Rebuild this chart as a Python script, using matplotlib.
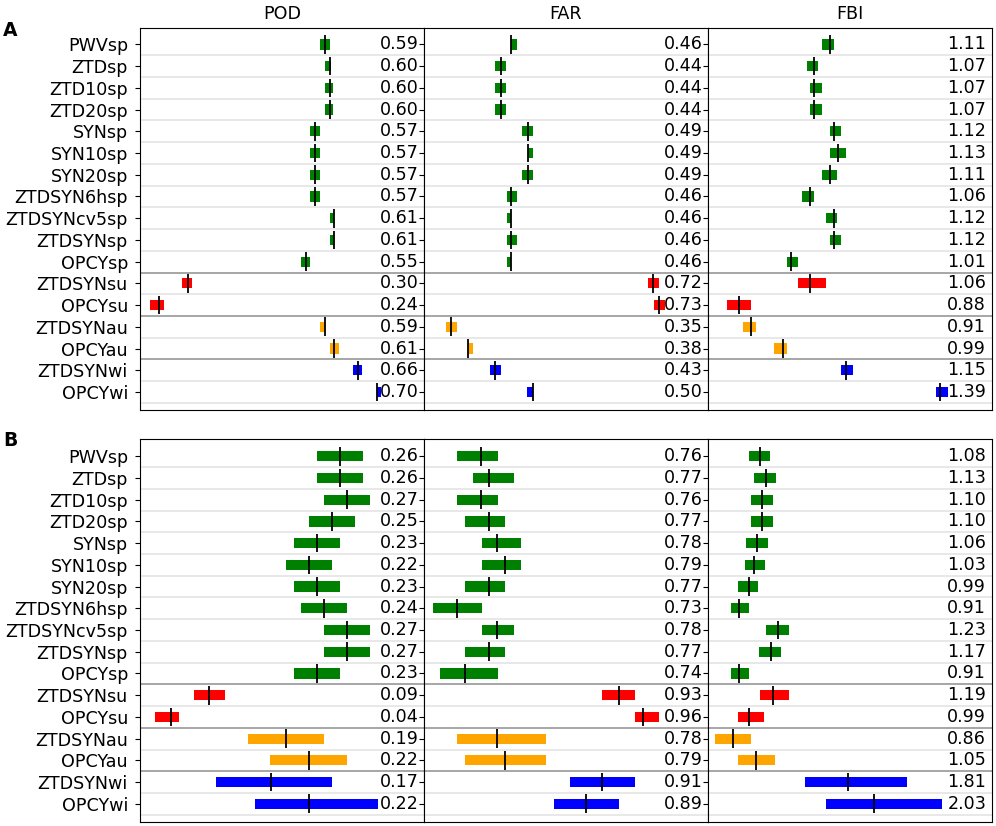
import numpy as np
import matplotlib
matplotlib.use("Agg")
import matplotlib.pyplot as plt
import matplotlib.transforms as mtransforms

# --- data ---
rows = ["PWVsp", "ZTDsp", "ZTD10sp", "ZTD20sp", "SYNsp", "SYN10sp", "SYN20sp",
        "ZTDSYN6hsp", "ZTDSYNcv5sp", "ZTDSYNsp", "OPCYsp",
        "ZTDSYNsu", "OPCYsu", "ZTDSYNau", "OPCYau", "ZTDSYNwi", "OPCYwi"]
row_colors = ["green"] * 11 + ["red"] * 2 + ["orange"] * 2 + ["blue"] * 2
metrics = ["POD", "FAR", "FBI"]

# panel A
a_pod = [0.59, 0.60, 0.60, 0.60, 0.57, 0.57, 0.57, 0.57, 0.61, 0.61, 0.55,
         0.30, 0.24, 0.59, 0.61, 0.66, 0.70]
a_pod_lo = [0.580, 0.590, 0.590, 0.590, 0.559, 0.559, 0.559, 0.559, 0.601, 0.601, 0.540,
            0.288, 0.220, 0.580, 0.600, 0.650, 0.700]
a_pod_hi = [0.600, 0.602, 0.608, 0.608, 0.579, 0.579, 0.579, 0.579, 0.609, 0.609, 0.558,
            0.310, 0.249, 0.590, 0.619, 0.669, 0.708]

a_far = [0.46, 0.44, 0.44, 0.44, 0.49, 0.49, 0.49, 0.46, 0.46, 0.46, 0.46,
         0.72, 0.73, 0.35, 0.38, 0.43, 0.50]
a_far_lo = [0.460, 0.430, 0.430, 0.430, 0.480, 0.490, 0.480, 0.451, 0.451, 0.451, 0.451,
            0.711, 0.721, 0.340, 0.380, 0.420, 0.489]
a_far_hi = [0.470, 0.450, 0.450, 0.450, 0.500, 0.500, 0.500, 0.470, 0.460, 0.470, 0.460,
            0.730, 0.741, 0.360, 0.390, 0.440, 0.500]

a_fbi = [1.11, 1.07, 1.07, 1.07, 1.12, 1.13, 1.11, 1.06, 1.12, 1.12, 1.01,
         1.06, 0.88, 0.91, 0.99, 1.15, 1.39]
a_fbi_lo = [1.089, 1.051, 1.060, 1.060, 1.111, 1.111, 1.089, 1.038, 1.099, 1.111, 1.000,
            1.029, 0.848, 0.890, 0.969, 1.139, 1.380]
a_fbi_hi = [1.121, 1.080, 1.089, 1.089, 1.139, 1.150, 1.129, 1.070, 1.129, 1.139, 1.030,
            1.099, 0.909, 0.922, 1.000, 1.168, 1.409]

# panel B
b_pod = [0.26, 0.26, 0.27, 0.25, 0.23, 0.22, 0.23, 0.24, 0.27, 0.27, 0.23,
         0.09, 0.04, 0.19, 0.22, 0.17, 0.22]
b_pod_lo = [0.230, 0.230, 0.240, 0.220, 0.200, 0.190, 0.200, 0.210, 0.240, 0.240, 0.200,
            0.070, 0.019, 0.140, 0.169, 0.099, 0.150]
b_pod_hi = [0.290, 0.290, 0.300, 0.280, 0.260, 0.250, 0.260, 0.270, 0.300, 0.300, 0.260,
            0.110, 0.050, 0.239, 0.270, 0.250, 0.310]

b_far = [0.76, 0.77, 0.76, 0.77, 0.78, 0.79, 0.77, 0.73, 0.78, 0.77, 0.74,
         0.93, 0.96, 0.78, 0.79, 0.91, 0.89]
b_far_lo = [0.730, 0.750, 0.730, 0.741, 0.761, 0.761, 0.741, 0.701, 0.761, 0.741, 0.710,
            0.910, 0.950, 0.730, 0.741, 0.870, 0.850]
b_far_hi = [0.781, 0.801, 0.781, 0.790, 0.810, 0.810, 0.790, 0.761, 0.801, 0.790, 0.781,
            0.950, 0.980, 0.840, 0.840, 0.950, 0.930]

b_fbi = [1.08, 1.13, 1.10, 1.10, 1.06, 1.03, 0.99, 0.91, 1.23, 1.17, 0.91,
         1.19, 0.99, 0.86, 1.05, 1.81, 2.03]
b_fbi_lo = [0.993, 1.034, 1.004, 1.004, 0.970, 0.962, 0.899, 0.838, 1.128, 1.075, 0.838,
            1.084, 0.899, 0.711, 0.899, 1.457, 1.633]
b_fbi_hi = [1.167, 1.216, 1.189, 1.189, 1.147, 1.125, 1.064, 0.993, 1.321, 1.260, 0.993,
            1.324, 1.117, 1.004, 1.208, 2.296, 2.586]

panel_a = [(a_pod, a_pod_lo, a_pod_hi), (a_far, a_far_lo, a_far_hi), (a_fbi, a_fbi_lo, a_fbi_hi)]
panel_b = [(b_pod, b_pod_lo, b_pod_hi), (b_far, b_far_lo, b_far_hi), (b_fbi, b_fbi_lo, b_fbi_hi)]
xlims_a = [(0.20, 0.80), (0.30, 0.82), (0.80, 1.52)]
xlims_b = [(0.0, 0.37), (0.69, 1.04), (0.65, 3.0)]
group_breaks = [10.5, 12.5, 14.5]

fig, axes = plt.subplots(2, 3, figsize=(9.96, 8.26), dpi=100, sharey=True)
fig.subplots_adjust(left=0.141, right=0.9955, top=0.9665, bottom=0.005,
                    wspace=0, hspace=0.077)

y = np.arange(len(rows))
FS = 12.6


def draw_panel(ax, vals, lo, hi, xlim):
    vals = np.array(vals)
    lo = np.array(lo)
    hi = np.array(hi)
    for yy in y:
        if yy + 0.5 in group_breaks:
            continue
        ax.axhline(yy + 0.5, color="#e6e6e6", lw=1.3, zorder=0)
    for b in group_breaks:
        ax.axhline(b, color="#a6a6a6", lw=1.4, zorder=1)
    ax.barh(y, hi - lo, left=lo, height=0.47, color=row_colors, zorder=2)
    ax.vlines(vals, y - 0.43, y + 0.43, color="black", lw=1.3, zorder=3)
    trans = mtransforms.blended_transform_factory(ax.transAxes, ax.transData)
    for yy, v in zip(y, vals):
        ax.text(0.981, yy, f"{v:.2f}", transform=trans, ha="right", va="center",
                fontsize=FS, zorder=4)
    ax.set_xlim(*xlim)
    ax.set_xticks([])


for col in range(3):
    draw_panel(axes[0, col], *panel_a[col], xlims_a[col])
    draw_panel(axes[1, col], *panel_b[col], xlims_b[col])
    axes[0, col].set_title(metrics[col], fontsize=FS, pad=6)

axes[0, 0].set_yticks(y)
axes[0, 0].set_yticklabels(rows, fontsize=FS)
axes[0, 0].set_ylim(16.83, -0.77)
for ax in axes[:, 0]:
    ax.tick_params(axis="y", labelleft=True, labelsize=FS, pad=5.5)

fig.text(0.003, 1 - 31 / 826, "A", fontsize=13.5, fontweight="bold", va="center")
fig.text(0.003, 1 - 441 / 826, "B", fontsize=13.5, fontweight="bold", va="center")

fig.savefig("out.png", dpi=100)
